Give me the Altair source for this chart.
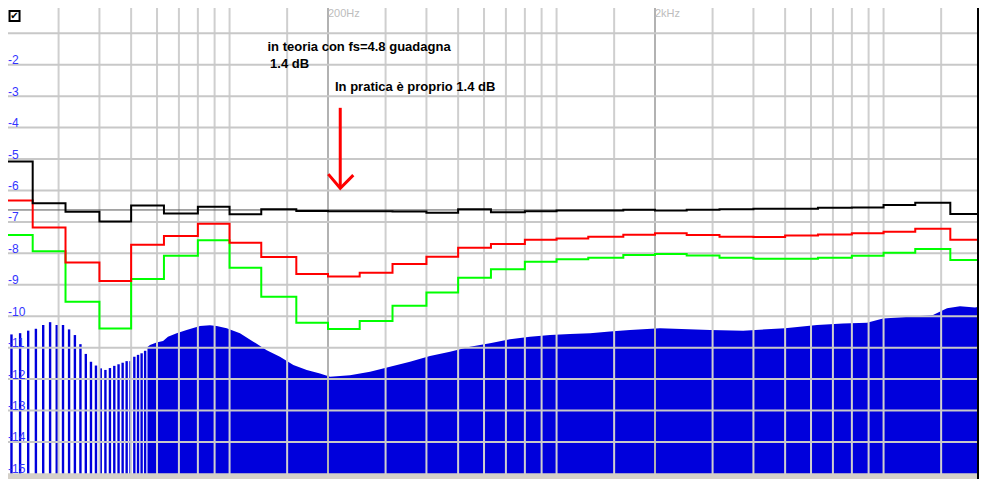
import altair as alt
import pandas as pd

# ---------------- data ----------------
# 1/3-octave band edges (Hz)
band_edges = [20, 25, 31.5, 40, 50, 63, 80, 100, 125, 160, 200, 250, 315, 400, 500,
              630, 800, 1000, 1250, 1600, 2000, 2500, 3150, 4000, 5000, 6300, 8000,
              10000, 12500, 16000, 20000]
black_db = [-5.08, -6.41, -6.68, -6.99, -6.48, -6.73, -6.52, -6.76, -6.60, -6.65,
            -6.66, -6.66, -6.67, -6.71, -6.60, -6.69, -6.66, -6.64, -6.64, -6.61,
            -6.64, -6.61, -6.60, -6.58, -6.58, -6.55, -6.54, -6.46, -6.39, -6.75]
red_db = [-6.32, -7.18, -8.29, -8.88, -7.73, -7.45, -7.06, -7.66, -8.12, -8.66,
          -8.74, -8.62, -8.34, -8.11, -7.82, -7.70, -7.57, -7.53, -7.47, -7.41,
          -7.36, -7.42, -7.47, -7.48, -7.43, -7.40, -7.36, -7.31, -7.22, -7.57]
green_db = [-7.42, -7.93, -9.54, -10.39, -8.82, -8.08, -7.58, -8.46, -9.38, -10.21,
            -10.41, -10.15, -9.67, -9.25, -8.78, -8.51, -8.27, -8.19, -8.14, -8.05,
            -8.02, -8.07, -8.14, -8.17, -8.17, -8.14, -8.08, -7.98, -7.86, -8.21]

# low-frequency FFT bins drawn as separate bars
bin_freq = [20.19, 21.53, 22.88, 24.22, 25.57, 26.92, 28.26, 29.61, 30.95, 32.30,
            33.65, 34.99, 36.34, 37.68, 39.03, 40.37, 41.72, 43.07, 44.41, 45.76,
            47.10, 48.45, 49.79, 51.14, 52.49, 53.83, 55.18]
bin_db = [-10.73, -10.58, -10.54, -10.46, -10.40, -10.28, -10.19, -10.28, -10.28, -10.42,
          -10.60, -10.89, -11.20, -11.45, -11.57, -11.66, -11.71, -11.65, -11.58, -11.53,
          -11.48, -11.43, -11.43, -11.29, -11.23, -11.18, -11.10]

# dense spectrum envelope
env_freq = [56.1, 57.1, 59.8, 62.6, 64.8, 68.9, 73.9, 81.2, 87.1, 91.3, 98.0, 107.6,
            118.2, 129.9, 142.6, 156.7, 172.2, 189.0, 202.8, 233.5, 268.9, 309.5,
            356.2, 410.1, 472.2, 543.6, 625.8, 720.4, 829.4, 955, 1099, 1266, 1457,
            1677, 2072, 2946, 3717, 4996, 6258, 7515, 8900, 9961, 12046, 14166,
            15634, 17130, 19041, 20000]
env_db = [-10.98, -10.92, -10.84, -10.79, -10.65, -10.54, -10.44, -10.31, -10.29, -10.31,
          -10.38, -10.54, -10.81, -11.08, -11.29, -11.55, -11.71, -11.82, -11.93, -11.88,
          -11.77, -11.61, -11.45, -11.27, -11.13, -10.97, -10.86, -10.73, -10.65, -10.60,
          -10.57, -10.54, -10.49, -10.44, -10.38, -10.44, -10.46, -10.38, -10.28, -10.23,
          -10.21, -10.07, -10.02, -9.96, -9.75, -9.68, -9.72, -9.68]

vgrid_minor = [30, 40, 50, 60, 70, 80, 90, 100, 150, 300, 400, 500, 600, 700, 800,
               900, 1000, 1500, 3000, 4000, 5000, 6000, 7000, 8000, 9000, 10000, 15000]
vgrid_major = [200, 2000]
hgrid_db = [-1, -2, -3, -4, -5, -6, -7, -8, -9, -10, -11, -12, -13, -14]
ylabel_db = [-2, -3, -4, -5, -6, -7, -8, -9, -10, -11, -12, -13, -14, -15]
freq_labels = ["200Hz", "2kHz"]
freq_label_pos = [200, 2000]
ref_level_db = -6.62

W, H = 971, 471
F_MIN, F_MAX = 21.01, 19582
DB_MIN, DB_MAX = -15.18, -0.194
xs = alt.Scale(type="log", domain=[F_MIN, F_MAX], nice=False)
ys = alt.Scale(domain=[DB_MIN, DB_MAX], nice=False, zero=False)


def X(field="f"):
    return alt.X(f"{field}:Q", scale=xs, axis=None)


def Y(field="db"):
    return alt.Y(f"{field}:Q", scale=ys, axis=None)


BLUE = "#0000dc"
GUI_GRAY = "#d4d0c8"

# ---------------- spectrum ----------------
env_df = pd.DataFrame({"f": env_freq, "db": env_db})
area = alt.Chart(env_df).mark_area(color=BLUE, clip=True, interpolate="linear").encode(
    x=X(), y=Y(), y2=alt.datum(DB_MIN))

bins_df = pd.DataFrame({"f": bin_freq, "db": bin_db})
bars = alt.Chart(bins_df).mark_rule(color=BLUE, strokeWidth=2.4, clip=True).encode(
    x=X(), y=Y(), y2=alt.datum(DB_MIN))

# ---------------- grid ----------------
vmin = alt.Chart(pd.DataFrame({"f": vgrid_minor})).mark_rule(
    color="#cfcfcf", strokeWidth=2, clip=True).encode(x=X())
vmaj = alt.Chart(pd.DataFrame({"f": vgrid_major})).mark_rule(
    color="#b2b2b2", strokeWidth=2, clip=True).encode(x=X())
hg = alt.Chart(pd.DataFrame({"db": hgrid_db})).mark_rule(
    color="#c8c8c8", strokeWidth=2, clip=True).encode(y=Y())

refline = alt.Chart(pd.DataFrame({"f": [20], "f2": [2000], "db": [ref_level_db]})).mark_rule(
    color="#555555", strokeWidth=1, clip=True).encode(
    x=X(), x2="f2:Q", y=Y())

# ---------------- step curves ----------------
rows = []
for name, vals in (("green", green_db), ("red", red_db), ("black", black_db)):
    for i, v in enumerate(vals):
        rows.append({"s": name, "f": band_edges[i], "db": v, "o": i})
    rows.append({"s": name, "f": band_edges[-1], "db": vals[-1], "o": len(vals)})
steps_df = pd.DataFrame(rows)
steps = alt.Chart(steps_df).mark_line(interpolate="step-after", strokeWidth=2, clip=True).encode(
    x=X(), y=Y(), detail="s:N", order="o:Q",
    color=alt.Color("s:N", scale=alt.Scale(domain=["green", "red", "black"],
                                           range=["#00ff00", "#ff0000", "#000000"]),
                    legend=None))

# ---------------- arrow ----------------
arrow_df = pd.DataFrame({
    "part": ["shaft", "shaft", "head", "head", "head"],
    "o": [0, 1, 0, 1, 2],
    "f": [218, 218, 200.4, 218, 239],
    "db": [-3.37, -5.90, -5.48, -5.93, -5.51],
})
arrow = alt.Chart(arrow_df).mark_line(color="#ff0000", strokeWidth=3, clip=True).encode(
    x=X(), y=Y(), detail="part:N", order="o:Q")

# ---------------- texts ----------------
ann_df = pd.DataFrame({
    "f": [130.6, 133.0, 210.1],
    "db": [-1.578, -2.093, -2.819],
    "t": ["in teoria con fs=4.8 guadagna", "1.4 dB", "In pratica è proprio 1.4 dB"],
})
ann = alt.Chart(ann_df).mark_text(align="left", baseline="alphabetic", font="Liberation Sans",
                                  fontSize=13, fontWeight="bold", color="#000000").encode(
    x=X(), y=Y(), text="t:N")

fl_df = pd.DataFrame({"f": freq_label_pos, "db": [-0.385, -0.385], "t": freq_labels})
flab = alt.Chart(fl_df).mark_text(align="left", baseline="alphabetic", font="Liberation Sans",
                                  fontSize=11, color="#bdbdbd", dy=3).encode(x=X(), y=Y(), text="t:N")

yl_df = pd.DataFrame({"db": ylabel_db, "t": [str(v) for v in ylabel_db], "f": [F_MIN] * len(ylabel_db)})
ylab = alt.Chart(yl_df).mark_text(align="left", baseline="alphabetic", font="Liberation Sans",
                                  fontSize=12, color="#3434ff", dy=-0.5).encode(
    x=X(), y=Y(), text="t:N")

# checkbox
cb_df = pd.DataFrame({"f": [22.0], "db": [-0.449], "t": ["✔"]})
cbox = alt.Chart(cb_df).mark_square(size=100, filled=False, fill="#ffffff", fillOpacity=1,
                                    stroke="#000000", strokeWidth=2, opacity=1).encode(x=X(), y=Y())
ctick = alt.Chart(cb_df).mark_text(font="DejaVu Sans", fontSize=10, fontWeight="bold",
                                   color="#000000", align="center", baseline="middle").encode(
    x=X(), y=Y(), text="t:N")

# window frame: right black border, gray GUI strip at the bottom
border = alt.Chart(pd.DataFrame({"f": [19582]})).mark_rule(
    color="#000000", strokeWidth=4).encode(x=X())
bottom_strip = alt.Chart(pd.DataFrame({"db": [-15.0], "db2": [DB_MIN]})).mark_rect(
    color=GUI_GRAY).encode(y=Y(), y2="db2:Q")

chart = alt.layer(
    area, bars, vmin, vmaj, hg, refline, steps, arrow, ann, flab, ylab, cbox, ctick,
    bottom_strip, border
).properties(
    width=W, height=H, padding=0,
    autosize=alt.AutoSizeParams(type="none"),
    background="#ffffff",
).configure_view(strokeWidth=0)

chart.save("out.html", embed_options={"renderer": "svg", "actions": False})
